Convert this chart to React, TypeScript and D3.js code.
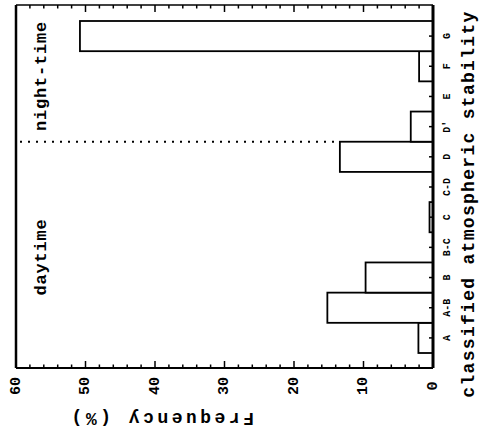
import React from 'react';
import * as d3 from 'd3';

// stability classes, bottom to top
const categories = ['A', 'A-B', 'B', 'B-C', 'C', 'C-D', 'D', "D'", 'E', 'F', 'G'];
const frequency = [2.1, 15.2, 9.7, 0, 0.5, 0, 13.4, 3.2, 0, 2.0, 50.8];
const valueTicks = [0, 10, 20, 30, 40, 50, 60];
const minorTicks = d3.range(0, 61, 2);

const W = 481;
const H = 435;
const FONT = '"Liberation Mono", "DejaVu Sans Mono", monospace';

const App = () => {
    const x = d3.scaleLinear().domain([0, 60]).range([433, 16]);
    const y = d3.scaleBand().domain(categories).range([353, 21]).padding(0);
    const top = 5;
    const bottom = 368;
    const bw = y.bandwidth();
    const splitY = y("D'") + bw;

    return (
        <svg width={W} height={H} style={{ position: 'absolute', left: 0, top: 0, background: '#fff' }}>
            {/* bars */}
            {categories.map((c, i) => frequency[i] > 0 && (
                <rect key={c} x={x(frequency[i])} y={y(c)} width={x(0) - x(frequency[i])} height={bw}
                    fill="#fff" stroke="#000" strokeWidth={1.8} />
            ))}

            {/* frame */}
            <line x1={x(60)} x2={x(0)} y1={top} y2={top} stroke="#000" strokeWidth={1.5} />
            <line x1={x(60)} x2={x(0)} y1={bottom} y2={bottom} stroke="#000" strokeWidth={2.2} />
            <line x1={x(60)} x2={x(60)} y1={top} y2={bottom} stroke="#000" strokeWidth={2.5} />
            <line x1={x(0)} x2={x(0)} y1={top} y2={bottom} stroke="#000" strokeWidth={3} />

            {/* value ticks, top and bottom */}
            {minorTicks.map((v) => {
                const len = v % 10 === 0 ? 7 : 3.5;
                return (
                    <g key={v}>
                        <line x1={x(v)} x2={x(v)} y1={top} y2={top + len} stroke="#000" strokeWidth={1.5} />
                        <line x1={x(v)} x2={x(v)} y1={bottom} y2={bottom - len} stroke="#000" strokeWidth={1.5} />
                    </g>
                );
            })}

            {/* category ticks on the zero axis */}
            {categories.map((c) => (
                <line key={c} x1={x(0)} x2={x(0) - 4} y1={y(c) + bw / 2} y2={y(c) + bw / 2} stroke="#000" strokeWidth={1.5} />
            ))}

            {/* day / night divider */}
            <line x1={x(60) + 4} x2={x(frequency[6])} y1={splitY} y2={splitY}
                stroke="#000" strokeWidth={2.2} strokeDasharray="2,6" />

            <g fontFamily={FONT} fontWeight="bold" fill="#000">
                {valueTicks.map((v) => (
                    <text key={v} transform={`translate(${x(v)},386) rotate(-90)`} textAnchor="middle"
                        dominantBaseline="middle" fontSize={15}>{v}</text>
                ))}
                {categories.map((c) => (
                    <text key={c} transform={`translate(447,${y(c) + bw / 2}) rotate(-90)`} textAnchor="middle"
                        dominantBaseline="middle" fontSize={10}>{c}</text>
                ))}
                <text transform="translate(469,204) rotate(-90)" textAnchor="middle" dominantBaseline="middle"
                    fontSize={18} letterSpacing={1.3}>classified atmospheric stability</text>
                <text transform="translate(161,418) rotate(180)" textAnchor="middle" dominantBaseline="middle"
                    fontSize={18} letterSpacing={3.5}>Frequency (%)</text>
                <text transform="translate(42,257) rotate(-90)" textAnchor="middle" dominantBaseline="middle"
                    fontSize={17} letterSpacing={0.8}>daytime</text>
                <text transform="translate(42,76) rotate(-90)" textAnchor="middle" dominantBaseline="middle"
                    fontSize={17} letterSpacing={0.8}>night-time</text>
            </g>
        </svg>
    );
};

export default App;
